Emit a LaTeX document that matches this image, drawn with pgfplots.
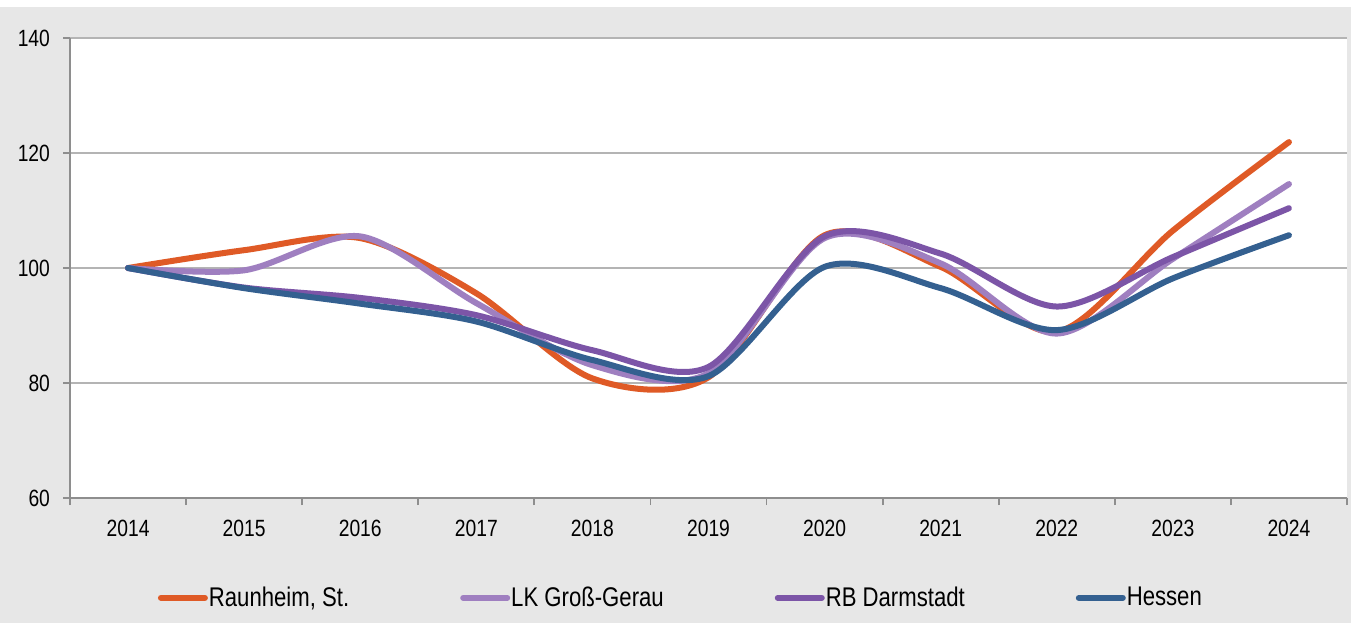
\documentclass[border=0pt]{standalone}
\usepackage{pgfplots}
\pgfplotsset{compat=1.18}
\usepackage{fontspec}
\setmainfont{Liberation Sans}[FakeStretch=0.82]
\definecolor{bg}{HTML}{E7E7E7}
\definecolor{gridc}{HTML}{B4B4B4}
\definecolor{axc}{HTML}{8E8E8E}
\definecolor{cRaun}{HTML}{DF5A26}
\definecolor{cLK}{HTML}{9F7FC0}
\definecolor{cRB}{HTML}{7C55A7}
\definecolor{cHes}{HTML}{346090}
\begin{document}
\begin{tikzpicture}[x=1pt,y=1pt]
\useasboundingbox (0,0) rectangle (677,311.5);
\fill[white] (0,0) rectangle (677,311.5);
\fill[bg] (0,0) rectangle (675.5,308);
\begin{axis}[
  at={(35pt,62.5pt)}, anchor=south west,
  scale only axis, width=638.5pt, height=230pt,
  xmin=-0.5, xmax=10.5, ymin=60, ymax=140,
  /pgf/number format/assume math mode=true,
  axis background/.style={fill=white},
  axis x line*=bottom, axis y line*=left,
  axis line style={draw=axc, line width=0.9pt},
  every axis plot/.append style={line width=3pt, line cap=round, line join=round},
  xtick={0,...,10},
  xticklabels={2014,2015,2016,2017,2018,2019,2020,2021,2022,2023,2024},
  minor xtick={-0.5,0.5,...,10.5},
  ytick={60,80,...,140},
  major tick length=3.5pt, minor tick length=3.5pt,
  x tick style={draw=none},
  minor x tick style={draw=axc, line width=0.9pt},
  y tick style={draw=axc, line width=0.9pt},
  tick align=outside,
  ymajorgrids, grid style={draw=gridc, line width=0.8pt},
  tick label style={font=\fontsize{11.75}{14}\selectfont, text=black},
  yticklabel style={xshift=-3pt},
  xticklabel style={yshift=-4pt},
  legend style={at={(0.478,-0.217)}, anchor=center, draw=none, fill=none,
    font=\fontsize{13.5}{16}\selectfont, legend columns=4,
    /tikz/every even column/.append style={column sep=55pt},
    nodes={inner sep=0.5pt}},
  legend image code/.code={\draw[#1, line width=3pt, line cap=round] (0pt,0pt) -- (22pt,0pt);},
]
\addplot[cRaun, smooth] coordinates {(0,100) (1,103.1) (2,105.2) (3,95.6) (4,80.8) (5,81.0) (6,105.7) (7,100.2) (8,88.9) (9,106.5) (10,121.9)};
\addlegendentry{Raunheim, St.}
\addplot[cLK, smooth] coordinates {(0,100) (1,99.6) (2,105.5) (3,93.9) (4,83.1) (5,81.7) (6,105.2) (7,100.8) (8,88.6) (9,101.6) (10,114.6)};
\addlegendentry{LK Groß-Gerau}
\addplot[cRB, smooth] coordinates {(0,100) (1,96.6) (2,94.8) (3,91.8) (4,85.7) (5,82.8) (6,105.5) (7,102.5) (8,93.3) (9,101.9) (10,110.4)};
\addlegendentry{RB Darmstadt}
\addplot[cHes, smooth] coordinates {(0,100) (1,96.5) (2,93.8) (3,90.7) (4,84.0) (5,81.2) (6,100.2) (7,96.5) (8,89.2) (9,98.2) (10,105.7)};
\addlegendentry{Hessen}
\end{axis}
\end{tikzpicture}
\end{document}
